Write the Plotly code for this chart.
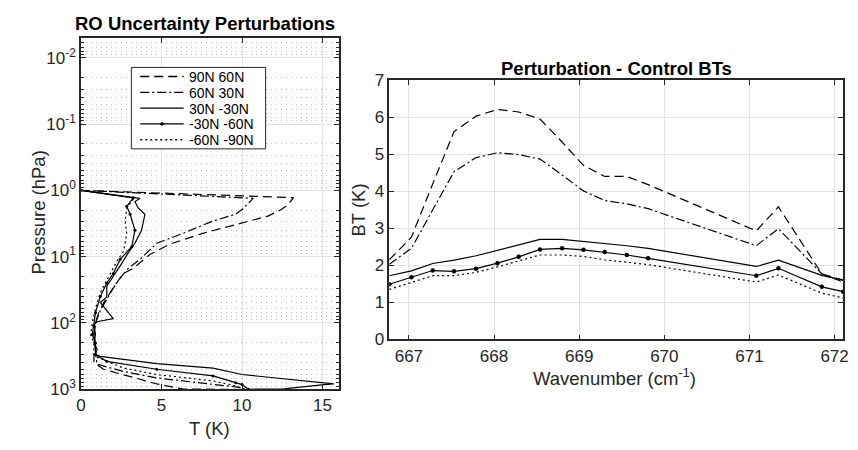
import numpy as np
import plotly.graph_objects as go

# ---------------- Left panel data (T in K, pressure in hPa) ----------------
labels = ["90N 60N", "60N 30N", "30N -30N", "-30N -60N", "-60N -90N"]

p_9060 = [1.0, 1.29, 1.7, 2.0, 2.45, 3.0, 4.5, 6.5, 9.3, 15, 18, 25, 35, 50, 70, 100, 150, 200, 300, 400, 500, 830, 990, 1010]
t_9060 = [0, 13.2, 12.8, 12.35, 11.6, 10.2, 7.5, 5.5, 4.27, 3.25, 2.64, 2.2, 1.8, 1.4, 1.1, 0.9, 0.8, 0.9, 0.8, 0.8, 1.4, 4.7, 6.3, 10.0]

p_6030 = [1.0, 1.32, 1.95, 2.3, 2.9, 4.5, 6.3, 11, 15, 20, 30, 45, 65, 100, 150, 200, 300, 420, 540, 675, 830, 935, 1000]
t_6030 = [0, 10.7, 10.0, 9.6, 8.2, 6.3, 4.7, 3.66, 2.94, 2.5, 2.0, 1.6, 1.2, 0.9, 0.8, 0.9, 0.9, 1.0, 2.64, 4.7, 8.2, 9.8, 10.2]

p_3030 = [1.0, 1.32, 1.48, 1.86, 2.3, 4.0, 6.3, 9, 13, 20, 28, 41, 49, 61, 86, 96, 107, 150, 200, 250, 300, 320, 410, 480, 600, 830, 850, 990, 1000]
t_3030 = [0, 3.66, 3.35, 3.56, 3.97, 3.76, 3.35, 2.9, 2.5, 2.0, 1.6, 1.6, 1.2, 1.5, 2.0, 1.0, 0.8, 0.9, 0.8, 1.0, 0.9, 1.2, 4.7, 8.2, 10.0, 15.7, 15.1, 12.6, 10.4]

p_3060 = [1.0, 1.3, 1.74, 2.3, 4.0, 7.1, 11, 18, 25, 40, 70, 110, 150, 200, 300, 380, 500, 630, 795, 850, 1000]
t_3060 = [0, 3.25, 2.84, 3.05, 3.35, 3.15, 2.43, 2.0, 1.6, 1.2, 0.9, 0.8, 0.7, 0.9, 0.9, 1.6, 4.7, 8.2, 9.6, 10.0, 10.4]

p_6090 = [1.0, 1.3, 1.86, 2.9, 4.5, 8.3, 12, 20, 35, 60, 100, 150, 200, 300, 330, 480, 600, 750, 890, 1000]
t_6090 = [0, 3.3, 2.84, 2.74, 2.84, 2.64, 2.2, 1.7, 1.2, 0.9, 0.7, 0.6, 0.8, 0.8, 1.0, 2.64, 4.7, 8.2, 9.6, 10.2]

# ---------------- Right panel data ----------------
wavenumber = [666.77, 667.03, 667.28, 667.53, 667.79, 668.04, 668.29, 668.54, 668.80,
              669.05, 669.30, 669.56, 669.81, 671.08, 671.34, 671.85, 672.10]
bt_9060 = [2.15, 2.76, 4.2, 5.61, 6.03, 6.21, 6.14, 5.95, 5.33, 4.70, 4.40, 4.40, 4.18, 2.93, 3.58, 1.77, 1.60]
bt_6030 = [2.03, 2.46, 3.5, 4.53, 4.91, 5.04, 4.99, 4.87, 4.44, 4.01, 3.75, 3.66, 3.53, 2.53, 2.99, 1.77, 1.55]
bt_3030 = [1.72, 1.85, 2.05, 2.14, 2.26, 2.40, 2.54, 2.70, 2.70, 2.65, 2.59, 2.53, 2.46, 1.97, 2.14, 1.73, 1.60]
bt_3060 = [1.49, 1.68, 1.86, 1.84, 1.91, 2.06, 2.23, 2.43, 2.46, 2.42, 2.36, 2.28, 2.19, 1.72, 1.92, 1.42, 1.29]
bt_6090 = [1.35, 1.53, 1.72, 1.72, 1.81, 1.96, 2.13, 2.28, 2.28, 2.24, 2.15, 2.09, 2.02, 1.55, 1.74, 1.25, 1.12]

left_x_ticks = [0, 5, 10, 15]
left_y_ticks = [1e-2, 1e-1, 1e0, 1e1, 1e2, 1e3]
left_y_labels = ["10<sup>-2</sup>", "10<sup>-1</sup>", "10<sup>0</sup>", "10<sup>1</sup>", "10<sup>2</sup>", "10<sup>3</sup>"]
right_x_ticks = [667, 668, 669, 670, 671, 672]
right_y_ticks = [0, 1, 2, 3, 4, 5, 6, 7]

FONT = "Liberation Sans, Arial, Helvetica, sans-serif"
DARK = "#262626"
GRID = "#e2e2e2"

dashes = ["9px,5px", "9px,3px,2px,3px", "solid", "solid", "2px,3px"]
left_T = [t_9060, t_6030, t_3030, t_3060, t_6090]
left_P = [p_9060, p_6030, p_3030, p_3060, p_6090]
right_bt = [bt_9060, bt_6030, bt_3030, bt_3060, bt_6090]

fig = go.Figure()
for i, lab in enumerate(labels):
    has_marker = (i == 3)
    fig.add_trace(go.Scatter(
        x=left_T[i], y=left_P[i], name=lab, xaxis="x", yaxis="y",
        mode="lines+markers" if has_marker else "lines",
        line=dict(color="black", width=1.2, dash=dashes[i]),
        marker=dict(color="black", size=3),
        showlegend=False,
    ))
for i, lab in enumerate(labels):
    has_marker = (i == 3)
    fig.add_trace(go.Scatter(
        x=wavenumber, y=right_bt[i], name=lab, xaxis="x2", yaxis="y2",
        mode="lines+markers" if has_marker else "lines",
        line=dict(color="black", width=1.2, dash=dashes[i]),
        marker=dict(color="black", size=4.5),
        showlegend=False,
    ))

W, H = 858, 450
def xd(a, b):
    return [a / W, b / W]
def yd(top, bottom):
    return [(H - bottom) / H, (H - top) / H]
def px(x):
    return x / W
def py(y):
    return 1 - y / H

axis_common = dict(
    showline=True, linecolor=DARK, linewidth=1.6, mirror="allticks",
    ticks="inside", ticklen=5, tickcolor=DARK, tickwidth=1.2,
    showgrid=True, gridcolor=GRID, gridwidth=1, zeroline=False,
    tickfont=dict(family=FONT, size=17, color=DARK),
)

minor_vals = [k * 10.0 ** e for e in range(-3, 3) for k in range(2, 10)]
minor_vals = [v for v in minor_vals if 0.005 <= v <= 1000]

fig.update_layout(
    width=W, height=H,
    margin=dict(l=0, r=0, t=0, b=0),
    paper_bgcolor="white", plot_bgcolor="white",
    font=dict(family=FONT, color=DARK),
    xaxis=dict(domain=xd(77, 338), range=[0, 16], tickvals=left_x_ticks,
               anchor="y", **axis_common),
    yaxis=dict(domain=yd(30, 397), type="log", range=[3, np.log10(0.005)],
               tickvals=left_y_ticks, ticktext=left_y_labels, anchor="x",
               minor=dict(tickmode="array", tickvals=minor_vals, ticks="inside", ticklen=3,
                          tickcolor=DARK, showgrid=True, gridcolor="#c0c0c0", griddash="1px,4px"),
               **axis_common),
    xaxis2=dict(domain=xd(389.3, 849), range=[666.77, 672.1], tickvals=right_x_ticks,
                anchor="y2", **axis_common),
    yaxis2=dict(domain=yd(74.3, 345), range=[0, 7], tickvals=right_y_ticks,
                anchor="x2", **axis_common),
    showlegend=False,
)

ann = []
def add_text(text, x, y, size, bold=False, angle=0, color=DARK, xanchor="center"):
    ann.append(dict(text=("<b>%s</b>" % text) if bold else text, x=px(x), y=py(y),
                    xref="paper", yref="paper", showarrow=False, textangle=angle,
                    xanchor=xanchor, yanchor="middle",
                    font=dict(family=FONT, size=size, color="black" if bold else color)))

add_text("RO Uncertainty Perturbations", 203, 15, 18.5, bold=True)
add_text("Perturbation - Control BTs", 619, 62, 18.5, bold=True)
add_text("T (K)", 207, 438, 18.5)
add_text("Pressure (hPa)", 33, 213, 18.5, angle=-90)
add_text("Wavenumber (cm<sup>-1</sup>)", 617, 384, 18.5)
add_text("BT (K)", 358, 210, 18.5, angle=-90)

# ---- legend box (drawn as a compact key like the original) ----
shapes = [dict(type="rect", xref="paper", yref="paper",
               x0=px(128), x1=px(264), y0=py(146), y1=py(61),
               line=dict(color=DARK, width=1), fillcolor="white", layer="above")]
row_y = [70.5, 87, 103.5, 120, 136.5]
for i, lab in enumerate(labels):
    shapes.append(dict(type="line", xref="paper", yref="paper",
                       x0=px(137), x1=px(181), y0=py(row_y[i]), y1=py(row_y[i]),
                       line=dict(color="black", width=1.3, dash=dashes[i]), layer="above"))
    if i == 3:
        shapes.append(dict(type="circle", xref="paper", yref="paper",
                           x0=px(157.5), x1=px(160.5), y0=py(row_y[i] + 1.5), y1=py(row_y[i] - 1.5),
                           line=dict(color="black", width=0.5), fillcolor="black", layer="above"))
    ann.append(dict(text=lab, x=px(185), y=py(row_y[i] + 0.5), xref="paper", yref="paper",
                    showarrow=False, xanchor="left", yanchor="middle",
                    borderpad=0,
                    font=dict(family=FONT, size=14, color="black")))

fig.update_layout(annotations=ann, shapes=shapes)

fig.write_html("out.html")
